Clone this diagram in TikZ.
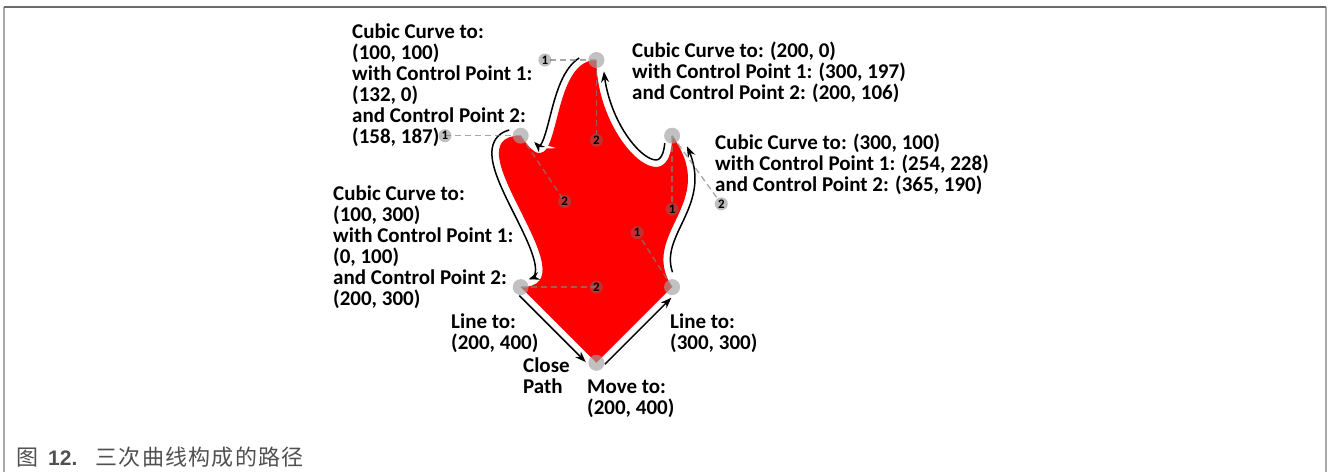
\documentclass[tikz,border=0pt]{standalone}
\usepackage{fontspec}
\setmainfont{Carlito}
\newfontfamily\cjkfont[LetterSpace=6]{Noto Sans CJK SC}
\newfontfamily\capfont{Liberation Sans}
\usetikzlibrary{calc,arrows.meta}
\definecolor{PathRed}{HTML}{FF0000}
\definecolor{PtGray}{HTML}{A0A0A0}
\definecolor{CtrlGray}{HTML}{707070}
\definecolor{DashGray}{HTML}{808080}
\definecolor{FrameTop}{HTML}{6A6A6A}
\definecolor{FrameSide}{HTML}{A8A8A8}
\definecolor{CapGray}{HTML}{505050}

% arrows drawn just outside each segment of the path (9.25 units = 7px)
\def\tracecurve#1(#2,#3)(#4,#5)(#6,#7)(#8,#9){%
  \draw[trace] plot[variable=\t,domain=#1,samples=40,smooth]
    ({bz(#2,#4,#6,#8,\t)-9.25*dbz(#3,#5,#7,#9,\t)/veclen(dbz(#2,#4,#6,#8,\t),dbz(#3,#5,#7,#9,\t))},
     {bz(#3,#5,#7,#9,\t)+9.25*dbz(#2,#4,#6,#8,\t)/veclen(dbz(#2,#4,#6,#8,\t),dbz(#3,#5,#7,#9,\t))});}
\newcommand\traceline[2]{%
  \draw[trace,shorten <=5pt,shorten >=8pt] ($(#1)!7pt!-90:(#2)$) -- ($(#2)!7pt!90:(#1)$);}

\begin{document}
\begin{tikzpicture}[x=1pt,y=-1pt,>={Stealth[length=11pt,width=8pt]},
    declare function={bz(\a,\b,\c,\d,\t)=(1-\t)^3*\a+3*(1-\t)^2*\t*\b+3*(1-\t)*\t^2*\c+\t^3*\d;
      dbz(\a,\b,\c,\d,\t)=((1-\t)^2*(\b-\a)+2*(1-\t)*\t*(\c-\b)+\t^2*(\d-\c))/100;}]
  \tikzstyle{anchorpt}=[circle,fill=PtGray,fill opacity=0.65,inner sep=0pt,
    minimum size=16pt]
  \tikzstyle{ctrlpt}=[circle,fill=CtrlGray,fill opacity=0.45,text opacity=1,
    inner sep=0pt,minimum size=13pt,font=\bfseries\fontsize{13}{13}\selectfont]
  \tikzstyle{ctrlline}=[draw=DashGray,draw opacity=0.7,line width=1.3pt,
    dash pattern=on 6pt off 4pt]
  \tikzstyle{trace}=[->,line width=1.5pt,preaction={draw=white,line width=5pt,-}]
  \tikzstyle{note}=[anchor=base west,align=left,inner sep=0pt,
    font=\bfseries\fontsize{21}{21}\selectfont]
  \useasboundingbox (0,0) rectangle (1328,472);
  \draw[FrameSide,line width=1.2pt] (4,472) -- (4,7);
  \draw[FrameSide,line width=1.2pt] (1326,472) -- (1326,7);
  \draw[FrameTop,line width=1.2pt] (4,7) -- (1326,7);

  % path points, in the units of the figure
  \begin{scope}[shift={(445,60)},scale=0.757]
    \coordinate (mv) at (200,400);
    \coordinate (ln) at (300,300);
    \coordinate (tr) at (300,100);
    \coordinate (tp) at (200,0);
    \coordinate (tl) at (100,100);
    \coordinate (bl) at (100,300);
    \coordinate (c11) at (254,228);
    \coordinate (c12) at (365,190);
    \coordinate (c21) at (300,197);
    \coordinate (c22) at (200,106);
    \coordinate (c31) at (132,0);
    \coordinate (c32) at (158,187);
    \coordinate (c41) at (0,100);
    \coordinate (c42) at (200,300);

    \fill[PathRed] (mv) -- (ln) .. controls (c11) and (c12) .. (tr)
      .. controls (c21) and (c22) .. (tp) .. controls (c31) and (c32) .. (tl)
      .. controls (c41) and (c42) .. (bl) -- cycle;

    \tracecurve{0.08:0.93}(300,300)(254,228)(365,190)(300,100)
    \tracecurve{0.04:0.95}(300,100)(300,197)(200,106)(200,0)
    \tracecurve{0.10:0.93}(200,0)(132,0)(158,187)(100,100)
    \tracecurve{0.05:0.95}(100,100)(0,100)(200,300)(100,300)
  \end{scope}

  \traceline{mv}{ln}
  \traceline{bl}{mv}

  \draw[ctrlline] (ln) -- (c11);
  \draw[ctrlline] (tr) -- (c12);
  \draw[ctrlline] (tr) -- (c21);
  \draw[ctrlline] (tp) -- (c22);
  \draw[ctrlline] (tp) -- (c31);
  \draw[ctrlline] (tl) -- (c32);
  \draw[ctrlline] (tl) -- (c41);
  \draw[ctrlline] (bl) -- (c42);

  \foreach \p in {mv,ln,tr,tp,tl,bl}
    \node[anchorpt] (pt-\p) at (\p) {};
  \foreach \c in {1,...,4} {
    \node[ctrlpt] (cp-\c1) at (c\c1) {1};
    \node[ctrlpt] (cp-\c2) at (c\c2) {2};
  }

  \node[note] (curve3) at (352,143) {Cubic Curve to:\\(100, 100)\\with Control Point 1:\\(132, 0)\\and Control Point 2:\\(158, 187)};
  \node[note] (curve2) at (632,99) {Cubic Curve to: (200, 0)\\with Control Point 1: (300, 197)\\and Control Point 2: (200, 106)};
  \node[note] (curve1) at (715,191) {Cubic Curve to: (300, 100)\\with Control Point 1: (254, 228)\\and Control Point 2: (365, 190)};
  \node[note] (curve4) at (333,305) {Cubic Curve to:\\(100, 300)\\with Control Point 1:\\(0, 100)\\and Control Point 2:\\(200, 300)};
  \node[note] (lineto2) at (451,349) {Line to:\\(200, 400)};
  \node[note] (close) at (523,393) {Close\\Path};
  \node[note] (moveto) at (587,414) {Move to:\\(200, 400)};
  \node[note] (lineto1) at (670,349) {Line to:\\(300, 300)};

  \node[anchor=base west,inner sep=0pt,text=CapGray,font=\fontsize{22}{22}\selectfont]
    (caption) at (16,465) {\cjkfont 图\hspace{10pt}{\capfont\bfseries\fontsize{21}{21}\selectfont 12.}\hspace{18pt}\cjkfont 三次曲线构成的路径};
\end{tikzpicture}
\end{document}
